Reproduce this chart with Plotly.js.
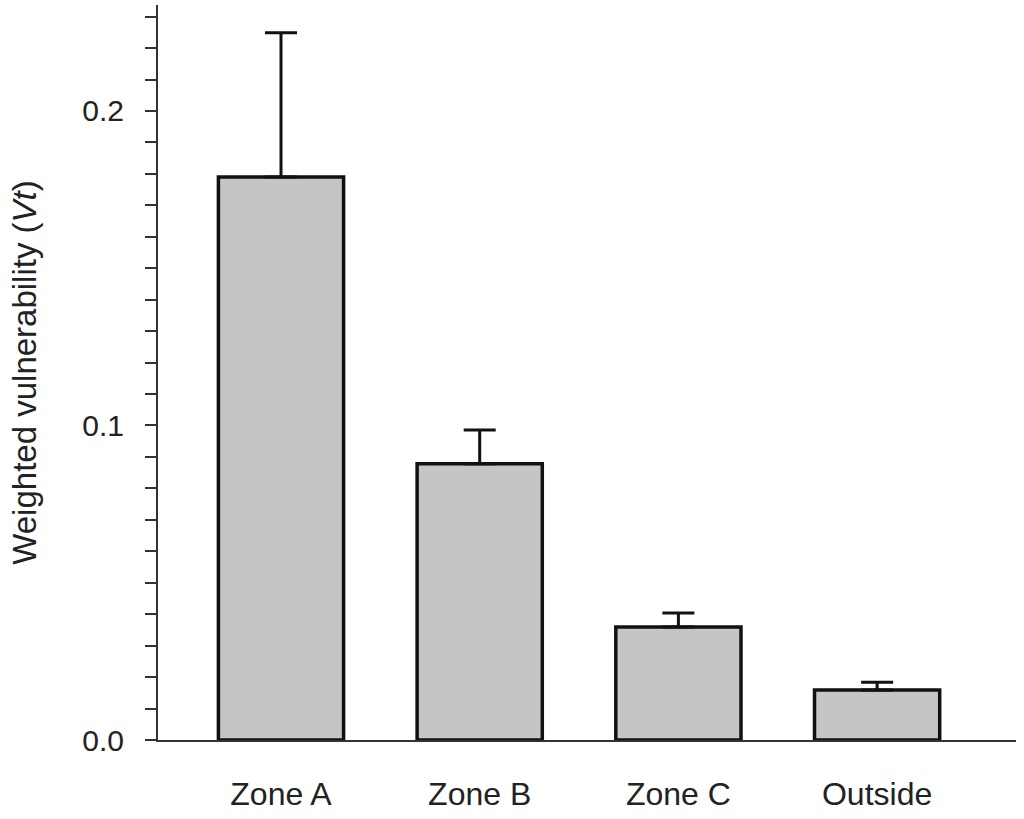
<!DOCTYPE html>
<html>
<head>
<meta charset="utf-8">
<script src="https://cdn.plot.ly/plotly-3.0.1.min.js"></script>
<style>
  html, body { margin: 0; padding: 0; background: #fff; }
  #chart { width: 1024px; height: 819px; }
</style>
</head>
<body>
<div id="chart"></div>
<script>
// ── Data ─────────────────────────────────────────────────────────────────────
const zones     = ['Zone A', 'Zone B', 'Zone C', 'Outside'];
const vtMean    = [0.179, 0.0878, 0.0359, 0.0159];
const vtErrUp   = [0.0459, 0.0108, 0.0045, 0.0025];
const vtErrDown = [0, 0, 0, 0];
const yTickVals = [0, 0.1, 0.2];
const yTickText = ['0.0', '0.1', '0.2'];

const FONT = 'Liberation Sans, Arial, Helvetica, sans-serif';

// ── Bar chart with one-sided error bars ─────────────────────────────────────
Plotly.newPlot('chart', [{
  type: 'bar',
  x: zones,
  y: vtMean,
  width: 0.63,
  marker: { color: '#c4c6c4', line: { color: '#111', width: 3.5 } },
  error_y: {
    type: 'data', symmetric: false,
    array: vtErrUp, arrayminus: vtErrDown,
    color: '#111', thickness: 3, width: 16,
  },
  hoverinfo: 'skip',
}], {
  width: 1024, height: 819,
  paper_bgcolor: '#fff', plot_bgcolor: '#fff',
  font: { family: FONT, color: '#222', size: 32 },
  margin: { t: 5, r: 8, b: 79, l: 158 },
  showlegend: false,
  bargap: 0,
  xaxis: {
    type: 'category',
    range: [-0.619, 3.699],
    showline: true, linecolor: '#333', linewidth: 2,
    ticks: '', ticklabelstandoff: 25,
    tickfont: { family: FONT, size: 32, color: '#222' },
    showgrid: false, zeroline: false, fixedrange: true,
  },
  yaxis: {
    range: [0, 0.2337],
    showline: true, linecolor: '#333', linewidth: 2,
    tickvals: yTickVals, ticktext: yTickText,
    ticks: 'outside', ticklen: 11, tickwidth: 2, tickcolor: '#333',
    minor: { dtick: 0.01, ticks: 'outside', ticklen: 11, tickwidth: 2, tickcolor: '#333', showgrid: false },
    ticklabelstandoff: 15,
    tickfont: { family: FONT, size: 30, color: '#222' },
    title: { text: 'Weighted vulnerability (<i>Vt</i>)', font: { family: FONT, size: 33, color: '#222' }, standoff: 36 },
    showgrid: false, zeroline: false, fixedrange: true,
  },
}, { displayModeBar: false, staticPlot: true });
</script>
</body>
</html>
